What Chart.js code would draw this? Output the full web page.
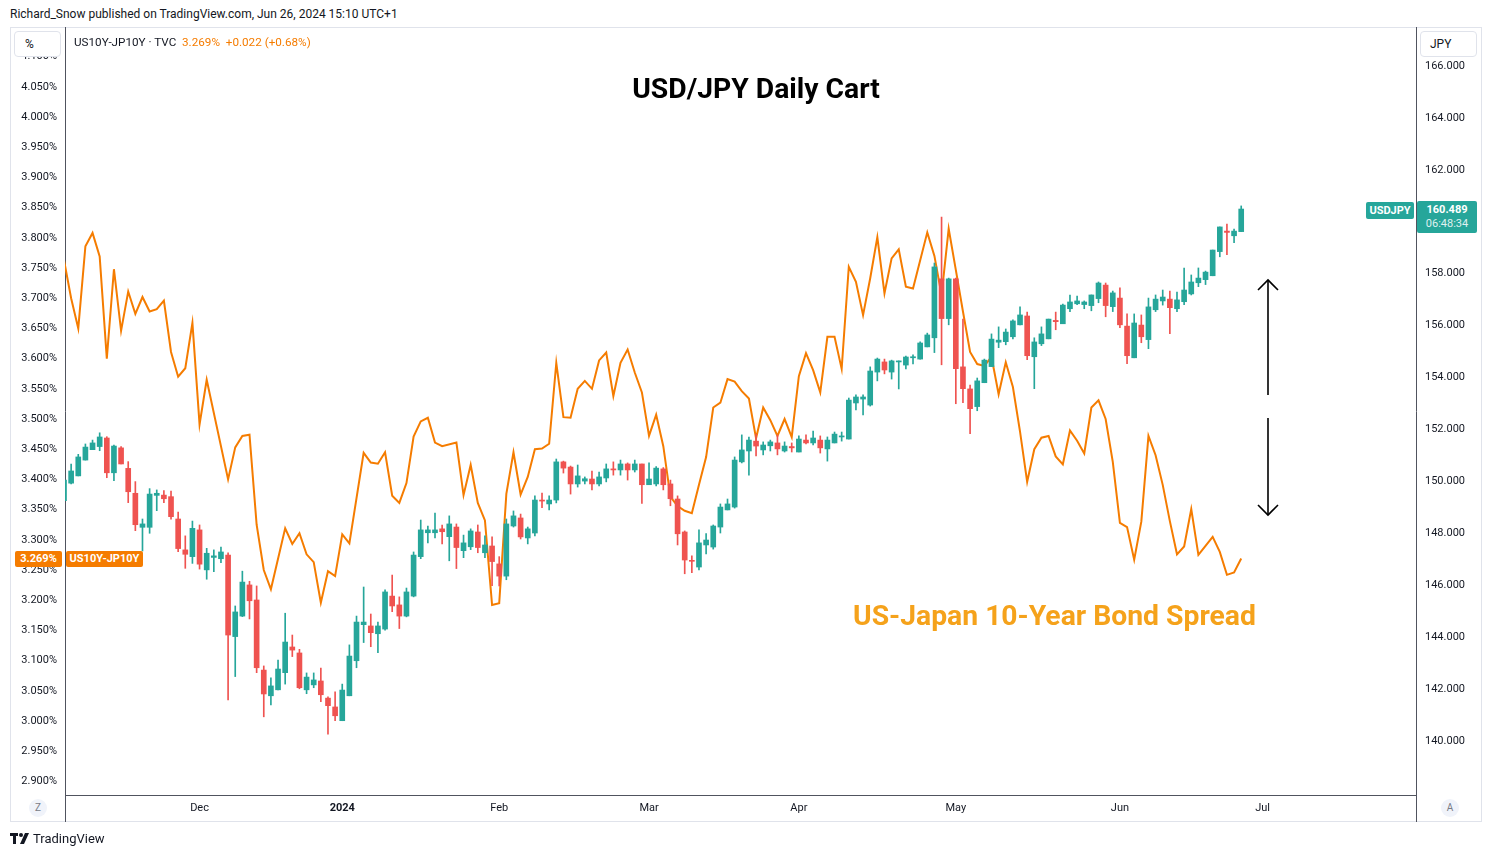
<!DOCTYPE html>
<html>
<head>
<meta charset="utf-8">
<script src="https://cdn.jsdelivr.net/npm/chart.js@4.4.1/dist/chart.umd.min.js"></script>
<style>
  html, body { margin: 0; padding: 0; background: #fff; }
  body { width: 1492px; height: 857px; position: relative; overflow: hidden; font-family: Roboto, "Liberation Sans", sans-serif; color: #131722; }
  .abs { position: absolute; }
  #frame { left: 10px; top: 27px; width: 1470px; height: 793px; border: 1px solid #e0e3eb; }
  #wrap { left: 10px; top: 27px; width: 1472px; height: 795px; }
  .box { border: 1px solid #e0e3eb; border-radius: 4px; background: #fff; font-size: 12px; line-height: 24px; }
  .tag { color: #fff; font-size: 11px; font-weight: bold; text-align: center; border-radius: 2px; }
  .circ { width: 18px; height: 18px; border-radius: 9px; background: #f0f3fa; color: #787b86; font-size: 10px; line-height: 18px; text-align: center; }
</style>
</head>
<body>
<div class="abs" style="left:10px; top:6px; font-size:12px; line-height:16px;">Richard_Snow published on TradingView.com, Jun 26, 2024 15:10 UTC+1</div>
<div id="frame" class="abs"></div>
<div id="wrap" class="abs"><canvas id="graph"></canvas></div>
<div class="abs" style="left:65px; top:795px; width:1px; height:27px; background:#50535e;"></div>
<div class="abs" style="left:1416px; top:795px; width:1px; height:27px; background:#50535e;"></div>

<div class="abs box" style="left:14px; top:31px; width:45px; height:24px; text-indent:10px;">%</div>
<div class="abs box" style="left:1420px; top:31px; width:55px; height:24px; text-indent:9px;">JPY</div>
<div class="abs" style="left:74px; top:34px; font-size:11.7px; line-height:16px; white-space:nowrap;">US10Y-JP10Y · TVC&nbsp;&nbsp;<span style="color:#f57c00">3.269%&nbsp;&nbsp;+0.022 (+0.68%)</span></div>

<div class="abs" style="left:756px; top:88px; transform:translate(-50%,-50%); font-size:28.3px; font-weight:bold; white-space:nowrap; color:#000;">USD/JPY Daily Cart</div>
<div class="abs" style="left:853px; top:615px; transform:translateY(-50%); font-size:28.3px; font-weight:bold; white-space:nowrap; color:#f5a21b;">US-Japan 10-Year Bond Spread</div>

<div class="abs tag" style="left:1366px; top:202px; width:48px; height:17px; line-height:17px; background:#26a69a;">USDJPY</div>
<div class="abs tag" style="left:1417px; top:201px; width:60px; height:32px; background:#26a69a; line-height:14px; padding-top:2px; box-sizing:border-box;">160.489<br><span style="font-weight:normal; opacity:0.85;">06:48:34</span></div>
<div class="abs tag" style="left:15px; top:551px; width:47px; height:16px; line-height:16px; background:#f57c00;">3.269%</div>
<div class="abs tag" style="left:66px; top:551px; width:77px; height:16px; line-height:16px; background:#f57c00;">US10Y-JP10Y</div>

<svg class="abs" style="left:0; top:0;" width="1492" height="857">
  <g stroke="#000" stroke-width="1.6" fill="none">
    <line x1="1268" y1="280" x2="1268" y2="395"/>
    <polyline points="1258,290 1268,280 1278,290"/>
    <line x1="1268" y1="418" x2="1268" y2="515"/>
    <polyline points="1258,505 1268,515 1278,505"/>
  </g>
  <g fill="#131722">
    <rect x="10" y="833" width="8" height="3"/>
    <rect x="13" y="833" width="3" height="11"/>
    <circle cx="21" cy="835" r="2"/>
    <polygon points="25,833 29,833 24,844 20,844"/>
  </g>
</svg>
<div class="abs" style="left:33px; top:831px; font-size:13px; line-height:16px;">TradingView</div>
<div class="abs circ" style="left:29px; top:799px;">Z</div>
<div class="abs circ" style="left:1441px; top:799px;">A</div>

<script>
// trading days from 6 Nov 2023 to 26 Jun 2024 (index 0..165), Dec 25 / Jan 1 not on axis
const monthTicks = [19, 39, 61, 82, 103, 125, 148, 168];
const monthLabels = ["Dec", "2024", "Feb", "Mar", "Apr", "May", "Jun", "Jul"];
const spreadTicks = [2.90, 2.95, 3.00, 3.05, 3.10, 3.15, 3.20, 3.25, 3.30, 3.35, 3.40, 3.45, 3.50, 3.55, 3.60, 3.65, 3.70, 3.75, 3.80, 3.85, 3.90, 3.95, 4.00, 4.05, 4.10];
const priceTicks = [140, 142, 144, 146, 148, 150, 152, 154, 156, 158, 160, 162, 164, 166];

// USDJPY daily candles
const usdOpen = [
  149.26,149.93,150.21,150.82,151.22,151.34,151.67,150.33,151.29,150.50,
  149.54,148.23,148.23,149.46,149.47,149.41,148.55,147.36,147.10,148.13,
  146.59,147.07,147.02,147.16,144.02,144.81,146.01,145.43,142.73,141.74,
  141.97,142.63,143.62,143.39,141.97,142.16,142.31,141.65,141.31,140.78,
  141.74,143.09,144.48,144.43,144.13,144.31,145.58,145.24,144.81,145.58,
  147.10,148.02,148.02,148.17,147.87,148.24,147.33,147.48,148.05,147.25,
  147.51,146.82,146.35,148.28,148.59,147.82,148.01,149.28,149.13,149.28,
  150.75,150.55,149.90,150.01,150.09,149.90,150.13,150.48,150.44,150.67,
  150.44,150.67,149.87,149.90,150.48,149.90,149.32,148.05,146.94,146.70,
  147.55,147.47,148.24,148.90,149.01,150.75,151.17,151.55,151.21,151.37,
  151.48,151.17,151.34,151.13,151.59,151.48,151.59,151.25,151.48,151.71,
  151.63,153.02,153.17,152.94,154.21,154.60,154.21,154.60,154.48,154.76,
  154.71,155.18,155.53,157.80,156.27,157.80,154.41,153.56,152.88,153.80,
  154.42,155.36,155.38,155.57,156.03,156.37,154.80,155.30,155.49,156.20,
  156.07,156.65,156.84,156.81,156.77,157.04,157.56,156.73,157.06,155.98,
  154.76,156.02,155.46,156.61,156.95,157.02,156.65,156.92,157.22,157.65,
  157.77,157.92,158.85,159.64,159.46,159.62
];
const usdHigh = [
  150.09,150.67,151.04,151.44,151.59,151.87,151.72,151.40,151.34,150.76,
  149.99,148.55,149.72,149.67,149.64,149.63,148.82,147.90,148.47,148.32,
  147.42,147.36,147.47,147.25,145.20,146.54,146.15,145.97,142.89,142.43,
  143.12,144.92,144.08,143.53,142.62,142.62,142.81,141.70,141.89,142.19,
  143.70,144.81,145.93,144.89,144.58,145.82,146.39,145.55,145.89,147.28,
  148.51,148.28,148.78,148.32,148.67,148.36,147.93,148.17,148.32,147.90,
  147.86,147.10,148.55,148.86,148.74,148.24,149.44,149.55,149.44,150.86,
  150.78,150.59,150.63,150.17,150.40,150.36,150.67,150.75,150.82,150.71,
  150.82,150.67,150.71,150.57,150.53,150.05,149.44,148.09,147.13,148.13,
  147.99,148.32,149.13,149.32,150.94,151.79,151.71,151.82,151.52,151.59,
  151.79,151.52,151.48,151.75,151.79,151.94,151.75,151.71,151.90,151.90,
  153.21,153.33,153.33,154.41,154.75,154.71,154.67,154.64,154.83,154.87,
  155.37,155.71,158.41,160.18,157.83,157.83,156.25,153.71,153.98,154.71,
  155.68,155.95,155.87,156.22,156.72,156.52,155.53,155.95,156.25,156.52,
  156.83,157.18,157.14,156.95,157.18,157.68,157.64,157.33,157.45,156.45,
  156.45,156.41,157.06,157.18,157.37,157.33,157.29,158.22,157.95,158.22,
  158.10,158.91,159.80,159.91,159.72,160.61
];
const usdLow = [
  149.21,149.90,150.21,150.82,151.22,151.18,150.14,150.03,150.67,149.18,
  148.10,147.32,148.00,148.87,149.18,148.54,147.29,146.65,146.84,146.62,
  146.23,146.52,146.87,141.58,142.48,144.79,144.70,142.63,140.93,141.39,
  141.97,142.19,143.25,142.01,141.82,142.05,141.51,140.26,140.78,140.78,
  141.74,142.82,143.79,143.63,143.40,144.27,144.98,144.33,144.78,145.55,
  147.02,147.63,147.82,147.59,146.94,146.64,147.06,147.37,147.25,147.06,
  145.98,145.97,146.21,148.24,147.78,147.59,147.90,148.99,148.90,149.17,
  150.32,149.51,149.78,149.90,149.67,149.82,149.98,150.24,150.24,150.05,
  150.36,149.15,149.87,149.82,149.67,149.06,147.55,146.44,146.48,146.59,
  147.20,147.39,148.01,148.90,148.97,150.71,150.24,150.98,151.02,151.17,
  151.02,151.13,151.13,151.13,151.44,151.40,151.09,150.78,151.48,151.55,
  151.63,152.75,152.56,152.90,153.87,154.14,153.94,153.56,154.33,154.52,
  154.71,155.18,154.96,154.49,156.03,152.99,153.03,151.84,152.72,153.80,
  154.42,155.15,155.26,155.49,156.03,154.69,153.57,155.23,155.49,155.84,
  156.07,156.54,156.81,156.65,156.57,156.88,156.34,156.54,155.92,154.53,
  154.76,155.34,155.11,156.54,156.79,155.69,156.54,156.81,157.18,157.50,
  157.58,157.92,158.65,158.73,159.19,159.62
];
const usdClose = [
  150.05,150.40,150.94,151.32,151.48,151.71,150.33,151.36,150.67,149.60,
  148.33,148.36,149.51,149.54,149.33,148.64,147.41,147.19,148.19,146.81,
  147.23,147.13,147.28,144.08,144.97,146.12,145.40,142.82,141.81,142.12,
  142.77,143.81,143.50,142.05,142.46,142.35,141.78,141.36,140.97,141.96,
  143.27,144.58,144.58,144.17,144.43,145.74,145.20,144.81,145.74,147.16,
  148.13,148.13,148.13,148.06,148.36,147.45,147.63,148.09,147.45,147.55,
  146.91,146.35,148.36,148.67,147.86,148.17,149.28,149.24,149.28,150.75,
  150.51,149.90,150.21,150.10,149.90,150.17,150.48,150.44,150.67,150.44,
  150.67,149.87,150.09,150.51,149.87,149.33,147.98,146.97,146.92,147.63,
  147.74,148.28,149.01,149.13,150.82,151.21,151.59,151.36,151.40,151.52,
  151.25,151.36,151.29,151.63,151.48,151.67,151.29,151.59,151.82,151.75,
  153.13,153.25,153.25,154.25,154.71,154.29,154.64,154.64,154.79,154.80,
  155.33,155.64,158.26,156.27,157.80,154.34,153.57,152.80,153.87,154.67,
  155.48,155.44,155.75,156.18,156.41,154.84,155.37,155.68,156.25,156.15,
  156.79,156.91,156.95,156.91,157.18,157.64,156.77,157.26,156.03,154.84,
  156.10,155.57,156.72,157.02,157.10,156.69,156.99,157.37,157.68,157.83,
  158.06,158.91,159.80,159.59,159.64,160.49
];

// US10Y-JP10Y spread, % (null where no separate point is visible)
const spread = [
  3.763,3.700,3.650,3.786,3.808,3.769,3.600,3.748,3.646,3.711,
  3.674,3.702,3.678,3.682,3.696,3.611,3.570,3.584,3.659,3.491,
  3.565,null,null,3.400,3.453,3.472,3.474,3.325,3.250,3.218,
  null,3.319,3.293,3.311,3.276,3.263,3.196,3.248,3.240,3.309,
  3.294,null,3.444,3.428,3.426,3.445,3.373,3.361,3.394,3.471,
  3.496,3.502,3.461,3.455,null,3.461,3.374,3.424,3.361,3.332,
  3.192,3.195,3.376,3.445,3.375,3.404,3.450,3.451,3.459,3.593,
  3.503,3.502,3.550,3.563,3.550,3.597,3.610,3.538,3.593,3.615,
  3.577,3.544,3.472,3.507,3.455,3.371,3.356,3.348,3.344,3.391,
  3.437,3.519,3.527,3.566,3.562,3.546,3.534,3.468,3.519,3.498,
  3.472,3.500,3.470,3.571,3.609,3.581,3.544,3.636,3.636,3.583,
  3.752,3.727,3.672,3.733,3.801,3.708,3.766,3.781,3.719,3.716,
  null,3.809,3.770,3.705,3.815,3.747,3.678,3.611,3.591,3.588,
  3.603,3.541,3.594,3.553,3.479,3.396,3.450,3.469,3.472,3.438,
  3.425,3.481,3.464,3.443,3.519,3.531,3.500,3.429,3.328,3.321,
  3.267,3.330,3.472,3.440,3.391,3.331,3.276,3.289,3.351,3.275,
  3.290,3.305,3.280,3.242,3.246,3.269
];

const UP = "#26a69a";
const DOWN = "#ef5350";
const tickFont = {family: "Roboto", size: 11};

const candleColors = usdClose.map((c, i) => c >= usdOpen[i] ? UP : DOWN);

// keep the plot area flush with the frame (no room reserved for edge labels)
const noPad = (s) => { s.paddingTop = 0; s.paddingBottom = 0; };

const graphRef = document.getElementById("graph");

const chart = new Chart(graphRef, {
    type: "bar",
    data: {
        datasets: [
            {
                type: "line",
                label: "US10Y-JP10Y",
                data: spread.map((v, i) => ({x: i, y: v})),
                yAxisID: "ys",
                borderColor: "#f57c00",
                borderWidth: 2,
                pointRadius: 0,
                spanGaps: true,
                tension: 0,
                order: 2,
            },
            {
                label: "wick",
                data: usdLow.map((lo, i) => ({x: i, y: [lo, usdHigh[i]]})),
                yAxisID: "yp",
                backgroundColor: candleColors,
                barThickness: 1,
                grouped: false,
                order: 1,
            },
            {
                label: "USDJPY",
                data: usdOpen.map((o, i) => ({x: i, y: [o, usdClose[i]]})),
                yAxisID: "yp",
                backgroundColor: candleColors,
                barThickness: 5,
                minBarLength: 1,
                grouped: false,
                order: 0,
            },
        ],
    },
    options: {
        responsive: true,
        maintainAspectRatio: false,
        animation: false,
        layout: {padding: 0},
        plugins: {legend: {display: false}, tooltip: {enabled: false}},
        scales: {
            x: {
                type: "linear",
                min: 0.14,
                max: 189.5,
                offset: false,
                grid: {display: false, drawTicks: false},
                border: {color: "#50535e"},
                ticks: {
                    color: "#131722",
                    padding: 7,
                    maxRotation: 0,
                    autoSkip: false,
                    font: (c) => ({
                        family: "Roboto",
                        size: 11,
                        weight: c.tick && monthLabels[monthTicks.indexOf(c.tick.value)] === "2024" ? "bold" : "normal",
                    }),
                    callback: (v) => monthLabels[monthTicks.indexOf(v)] ?? "",
                },
                afterBuildTicks: (s) => { s.ticks = monthTicks.map((v) => ({value: v})); },
                afterFit: (s) => { s.height = 27; s.paddingLeft = 0; s.paddingRight = 0; },
            },
            ys: {
                type: "linear",
                position: "left",
                min: 2.8775,
                max: 4.149,
                grid: {display: false, drawTicks: false},
                border: {color: "#50535e"},
                ticks: {
                    color: "#131722",
                    font: tickFont,
                    padding: 8,
                    callback: (v) => v.toFixed(3) + "%",
                },
                afterBuildTicks: (s) => { s.ticks = spreadTicks.map((v) => ({value: v})); },
                afterFit: (s) => { s.width = 55; noPad(s); },
            },
            yp: {
                type: "linear",
                position: "right",
                min: 137.918,
                max: 167.502,
                grid: {display: false, drawTicks: false},
                border: {color: "#50535e"},
                ticks: {
                    color: "#131722",
                    font: tickFont,
                    padding: 9,
                    callback: (v) => v.toFixed(3),
                },
                afterBuildTicks: (s) => { s.ticks = priceTicks.map((v) => ({value: v})); },
                afterFit: (s) => { s.width = 66; noPad(s); },
            },
        },
    },
});
</script>
</body>
</html>
